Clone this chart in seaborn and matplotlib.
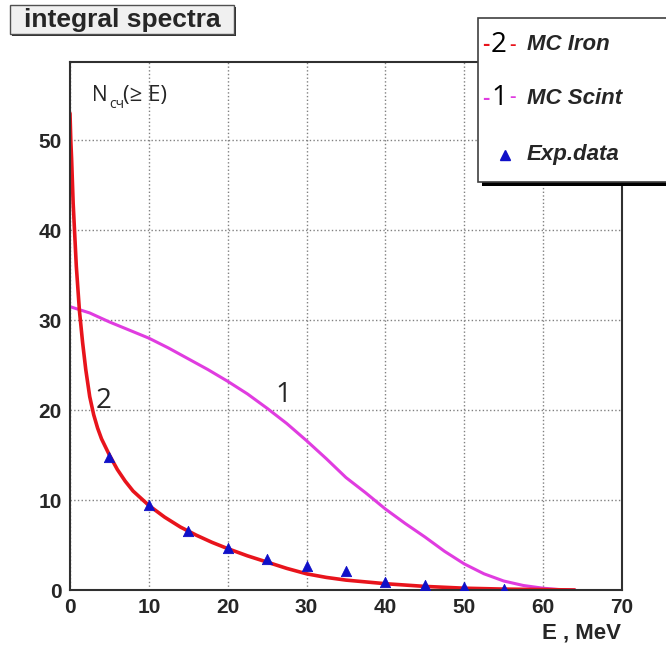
import matplotlib
matplotlib.use("Agg")
import matplotlib.pyplot as plt
import matplotlib.patches as mpatches
import pandas as pd
import seaborn as sns

# MC Iron curve (label 2)
iron_e = [0, 0.1, 0.2, 0.4, 0.8, 1.2, 1.6, 2.0, 2.5, 3, 3.5, 4, 5, 6, 7, 8, 9, 10, 12, 14, 16, 18, 20,
          22.5, 25, 27.5, 30, 32.5, 35, 40, 45, 50, 55, 60, 64]
iron_n = [53, 50, 48, 43, 36, 31, 27.5, 24.5, 21.5, 19.5, 18, 16.8, 15, 13.4, 12.1, 11, 10.2, 9.4, 8.1, 7.0, 6.1, 5.3, 4.6,
          3.8, 3.1, 2.4, 1.8, 1.4, 1.1, 0.7, 0.4, 0.2, 0.1, 0.05, 0]

# MC Scint curve (label 1)
scint_e = [0, 2.5, 5, 7.5, 10, 12.5, 15, 17.5, 20, 22.5, 25, 27.5, 30, 32.5, 35, 37.5, 40, 42.5, 45, 47.5,
           50, 52.5, 55, 57.5, 60, 62, 64]
scint_n = [31.5, 30.8, 29.8, 28.9, 28.0, 26.9, 25.7, 24.5, 23.2, 21.8, 20.2, 18.5, 16.6, 14.6, 12.5, 10.8,
           9.0, 7.4, 5.9, 4.3, 2.9, 1.8, 1.0, 0.5, 0.2, 0.05, 0]

# experimental points
exp_e = [5, 10, 15, 20, 25, 30, 35, 40, 45, 50, 55]
exp_n = [14.8, 9.5, 6.6, 4.7, 3.5, 2.7, 2.1, 0.9, 0.6, 0.3, 0.1]

RED = "#e8141c"
MAGENTA = "#e03ce0"
BLUE = "#1010c8"

sns.set_style("white")
plt.rcParams['font.family'] = ['Liberation Sans', 'DejaVu Sans']
lab_font = ['Open Sans', 'DejaVu Sans']

W, H = 666, 654
fig = plt.figure(figsize=(W / 100, H / 100), dpi=100)


def fx(px):
    return px / W


def fy(py):
    return 1 - py / H


ax = fig.add_axes([fx(70), fy(590), fx(622) - fx(70), fy(62) - fy(590)])

iron = pd.DataFrame({'E': iron_e, 'N': iron_n})
scint = pd.DataFrame({'E': scint_e, 'N': scint_n})
exp = pd.DataFrame({'E': exp_e, 'N': exp_n})

sns.lineplot(data=scint, x='E', y='N', color=MAGENTA, linewidth=2.2, ax=ax)
sns.lineplot(data=iron, x='E', y='N', color=RED, linewidth=2.6, ax=ax)
sns.scatterplot(data=exp, x='E', y='N', color=BLUE, marker='^', s=55, edgecolor=BLUE, ax=ax, zorder=5)

ax.set_xlim(0, 70)
ax.set_ylim(0, 58.7)
ax.set_xticks(range(0, 71, 10))
ax.set_yticks(range(0, 51, 10))
ax.set_xticks(range(0, 71, 2), minor=True)
ax.set_yticks(range(0, 58, 2), minor=True)
ax.grid(True, which='major', linestyle=':', color='#808080', linewidth=1)
ax.set_xlabel('')
ax.set_ylabel('')

ax.tick_params(which='major', direction='in', length=8, width=1.3, labelsize=15, pad=6)
ax.tick_params(which='minor', direction='in', length=4, width=1.2)
ax.tick_params(top=False, right=False, which='both')
for lab in ax.get_xticklabels() + ax.get_yticklabels():
    lab.set_fontweight('bold')

for s in ax.spines.values():
    s.set_color('#303030')
    s.set_linewidth(1.5)

# curve labels
ax.text(4.2, 21, '2', fontsize=20, family=lab_font, ha='center', va='center')
ax.text(27, 21.7, '1', fontsize=20, family=lab_font, ha='center', va='center')

# y label N_сч(≥ E)
fig.text(fx(92), fy(101), 'N', fontsize=15, family=lab_font, ha='left', va='baseline')
fig.text(fx(109), fy(108), 'сч', fontsize=10, family=lab_font, ha='left', va='baseline')
fig.text(fx(123), fy(101), '(≥ E)', fontsize=16, family=lab_font, ha='left', va='baseline')

# x label
fig.text(fx(621), fy(633), 'E , MeV', fontsize=16, fontweight='bold', ha='right', va='center')

# title box with shadow
fig.add_artist(mpatches.Rectangle((fx(12), fy(36)), fx(236) - fx(12), fy(7) - fy(36),
                                  transform=fig.transFigure, facecolor='#303030', edgecolor='none', zorder=10))
fig.add_artist(mpatches.Rectangle((fx(10), fy(34)), fx(234) - fx(10), fy(5) - fy(34),
                                  transform=fig.transFigure, facecolor='#f0f0f0', edgecolor='#505050',
                                  linewidth=1.0, zorder=11))
fig.text(fx(122), fy(20), 'integral spectra', fontsize=19, fontweight='bold', ha='center', va='center', zorder=12)

# legend box with shadow
fig.add_artist(mpatches.Rectangle((fx(482), fy(186)), fx(700) - fx(482), fy(22) - fy(186),
                                  transform=fig.transFigure, facecolor='black', edgecolor='none', zorder=10))
fig.add_artist(mpatches.Rectangle((fx(478), fy(182)), fx(700) - fx(478), fy(18) - fy(182),
                                  transform=fig.transFigure, facecolor='white', edgecolor='#404040',
                                  linewidth=1.2, zorder=11))

entries = [(45, RED, '2', 'MC Iron'), (98, MAGENTA, '1', 'MC Scint')]
for py, col, num, name in entries:
    fig.text(fx(486), fy(py), '-', color=col, fontsize=16, fontweight='bold', ha='center', va='center', zorder=12)
    fig.text(fx(499), fy(py), num, color='black', fontsize=20, family=lab_font, ha='center', va='center', zorder=12)
    fig.text(fx(513), fy(py), '-', color=col, fontsize=14, fontweight='bold', ha='center', va='center', zorder=12)
    fig.text(fx(527), fy(py), name, fontsize=16, fontweight='bold', style='italic', ha='left', va='center', zorder=12)

fig.add_artist(plt.Line2D([fx(505)], [fy(155)], marker='^', color=BLUE, markersize=7,
                          transform=fig.transFigure, zorder=12))
fig.text(fx(527), fy(155), 'Exp.data', fontsize=16, fontweight='bold', style='italic', ha='left', va='center', zorder=12)

fig.savefig('out.png', dpi=100)
